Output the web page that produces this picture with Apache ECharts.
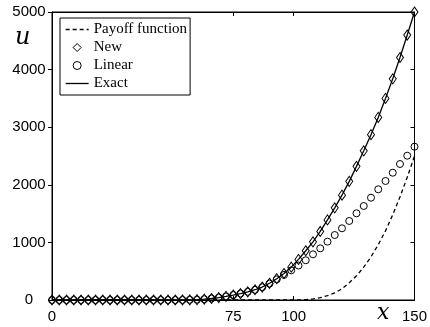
<!DOCTYPE html>
<html>
<head>
<meta charset="utf-8">
<script src="https://cdn.jsdelivr.net/npm/echarts@6/dist/echarts.min.js"></script>
<style>
  html, body { margin: 0; padding: 0; background: #fff; }
  #chart { width: 430px; height: 327px; }
</style>
</head>
<body>
<div id="chart"></div>
<script>
// x grid (step 3)
const xs = [0, 3, 6, 9, 12, 15, 18, 21, 24, 27, 30, 33, 36, 39, 42, 45, 48, 51, 54, 57,
  60, 63, 66, 69, 72, 75, 78, 81, 84, 87, 90, 93, 96, 99, 102, 105, 108, 111, 114, 117,
  120, 123, 126, 129, 132, 135, 138, 141, 144, 147, 150]

const payoff = [0, 0, 0, 0, 0, 0, 0, 0, 0, 0, 0, 0, 0, 0, 0, 0, 0, 0, 0, 0,
  0, 0, 0, 0, 0, 0, 0, 0, 0, 0, 0, 0, 0, 0, 1, 6, 18, 40, 75, 125,
  195, 300, 420, 570, 750, 960, 1200, 1480, 1790, 2130, 2500]

const newScheme = [0, 0, 0, 0, 0, 0, 0, 0, 0, 0, 0, 0, 0, 0, 0, 0, 0, 0, 1, 3,
  6, 14, 26, 42, 62, 86, 112, 142, 178, 225, 290, 370, 460, 570, 705, 855, 1010, 1190, 1390, 1600,
  1820, 2060, 2320, 2590, 2870, 3170, 3500, 3840, 4210, 4600, 5000]

const linearScheme = [0, 0, 0, 0, 0, 0, 0, 0, 0, 0, 0, 0, 0, 0, 0, 0, 0, 0, 1, 3,
  6, 14, 26, 42, 62, 86, 112, 142, 176, 222, 285, 358, 435, 515, 598, 690, 793, 897, 1013, 1128,
  1245, 1372, 1505, 1632, 1776, 1922, 2066, 2210, 2361, 2505, 2662]

const exact = [0, 0, 0, 0, 0, 0, 0, 0, 0, 0, 0, 0, 0, 0, 0, 0, 0, 0, 1, 3,
  6, 14, 26, 42, 62, 86, 112, 142, 178, 225, 290, 370, 460, 570, 705, 855, 1010, 1190, 1390, 1600,
  1820, 2060, 2320, 2590, 2870, 3170, 3500, 3840, 4210, 4600, 5000]

const xTickLabels = [0, 75, 100, 150]
const xTopTicks = [75, 100]

const pairs = ys => xs.map((x, i) => [x, ys[i]])

const chart = echarts.init(document.getElementById('chart'))

const hollow = { color: 'rgba(0,0,0,0)', borderColor: '#000', borderWidth: 1 }
const noLine = { width: 0, opacity: 0 }

const option = {
  backgroundColor: '#fff',
  animation: false,
  grid: { left: 52, right: 12, top: 12, bottom: 27, show: true, borderColor: '#000', borderWidth: 1, backgroundColor: 'rgba(0,0,0,0)' },
  legend: {
    orient: 'vertical',
    left: 60,
    top: 18,
    padding: [4, 3, 4, 5],
    borderColor: '#000',
    borderWidth: 1,
    borderRadius: 0,
    backgroundColor: '#fff',
    itemWidth: 23,
    itemHeight: 10,
    itemGap: 3,
    textStyle: { color: '#000', fontFamily: 'Liberation Serif', fontSize: 15, lineHeight: 15 },
    data: [
      { name: 'Payoff function', itemStyle: { opacity: 0 }, lineStyle: { color: '#000', width: 1.3, type: [4, 3] } },
      { name: 'New', itemStyle: hollow, lineStyle: noLine },
      { name: 'Linear', itemStyle: hollow, lineStyle: noLine },
      { name: 'Exact', itemStyle: { opacity: 0 }, lineStyle: { color: '#000', width: 1.3 } }
    ]
  },
  xAxis: [
    {
      type: 'value',
      min: 0,
      max: 150,
      axisLine: { onZero: false, lineStyle: { color: '#000', width: 1 } },
      axisTick: { inside: true, length: 4, customValues: xTickLabels, lineStyle: { color: '#000' } },
      axisLabel: { customValues: xTickLabels, margin: 9, color: '#000', fontSize: 15, fontFamily: 'Liberation Sans' },
      splitLine: { show: false }
    },
    {
      type: 'value',
      position: 'top',
      min: 0,
      max: 150,
      axisLine: { onZero: false, lineStyle: { color: '#000', width: 1 } },
      axisTick: { inside: true, length: 4, customValues: xTopTicks, lineStyle: { color: '#000' } },
      axisLabel: { show: false },
      splitLine: { show: false }
    }
  ],
  yAxis: [
    {
      type: 'value',
      min: 0,
      max: 5000,
      interval: 1000,
      axisLine: { show: true, onZero: false, lineStyle: { color: '#000', width: 1 } },
      axisTick: { show: true, inside: false, length: 4, lineStyle: { color: '#000' } },
      axisLabel: { align: 'center', margin: 23, color: '#000', fontSize: 15, fontFamily: 'Liberation Sans', formatter: v => String(v) },
      splitLine: { show: false }
    },
    {
      type: 'value',
      position: 'right',
      min: 0,
      max: 5000,
      interval: 1000,
      axisLine: { show: true, onZero: false, lineStyle: { color: '#000', width: 1 } },
      axisTick: { show: true, inside: true, length: 4, lineStyle: { color: '#000' } },
      axisLabel: { show: false },
      splitLine: { show: false }
    }
  ],
  series: [
    {
      name: 'Payoff function',
      type: 'line',
      data: pairs(payoff),
      symbol: 'none',
      clip: false,
      lineStyle: { color: '#000', width: 1.3, type: [4, 3] },
      itemStyle: { color: '#000' }
    },
    {
      name: 'New',
      type: 'line',
      data: pairs(newScheme),
      symbol: 'diamond',
      symbolSize: [7, 10],
      showAllSymbol: true,
      clip: false,
      lineStyle: { width: 0, opacity: 0 },
      itemStyle: hollow
    },
    {
      name: 'Linear',
      type: 'line',
      data: pairs(linearScheme),
      symbol: 'circle',
      symbolSize: 7,
      showAllSymbol: true,
      clip: false,
      lineStyle: { width: 0, opacity: 0 },
      itemStyle: hollow
    },
    {
      name: 'Exact',
      type: 'line',
      data: pairs(exact),
      symbol: 'none',
      clip: false,
      lineStyle: { color: '#000', width: 1.3 },
      itemStyle: { color: '#000' }
    }
  ],
  graphic: [
    {
      type: 'text',
      left: 15,
      top: 26,
      style: { text: 'u', fill: '#000', font: 'italic 24px "DejaVu Serif"' }
    },
    {
      type: 'text',
      left: 377,
      top: 302,
      style: { text: 'x', fill: '#000', font: 'italic 22px "DejaVu Serif"' }
    }
  ]
}

chart.setOption(option)
</script>
</body>
</html>
